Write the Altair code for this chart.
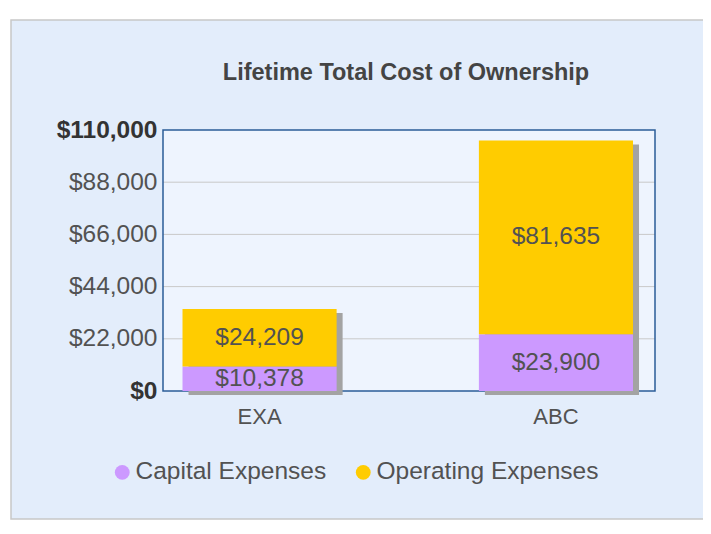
import altair as alt
import pandas as pd

# ---- data ----
products = ["EXA", "ABC"]
series = ["Capital Expenses", "Operating Expenses"]
capital = [10378, 23900]
operating = [24209, 81635]
y_ticks = [0, 22000, 44000, 66000, 88000, 110000]
title_text = "Lifetime Total Cost of Ownership"

rows = []
for i, p in enumerate(products):
    rows.append({"product": p, "series": series[0], "order": 0, "value": capital[i]})
    rows.append({"product": p, "series": series[1], "order": 1, "value": operating[i]})
df = pd.DataFrame(rows)
ticks_df = pd.DataFrame({"tick": y_ticks[1:-1]})

FONT = "Liberation Sans"
W, H = 492, 261
PANEL = "#e3edfb"
PLOT_BG = "#eef4fe"
BORDER = "#2b5c98"
TXT = "#525252"

xenc = alt.X(
    "product:N",
    sort=products,
    scale=alt.Scale(paddingInner=0.48, paddingOuter=0.07, align=0.47),
    axis=alt.Axis(
        title=None, labelAngle=0, domain=False, ticks=False, labelPadding=15,
        labelFontSize=22, labelFont=FONT, labelColor=TXT, zindex=1,
    ),
)
yscale = alt.Scale(domain=[0, 110000], nice=False, zero=True)
yaxis = alt.Axis(
    title=None, values=y_ticks, format="$,.0f", domain=False, ticks=False, grid=False,
    labelPadding=6, labelFontSize=24.5, labelFont=FONT, zindex=1,
    labelFontWeight=alt.condition("datum.value == 0 || datum.value == 110000",
                                  alt.value("bold"), alt.value("normal")),
    labelColor=alt.condition("datum.value == 0 || datum.value == 110000",
                             alt.value("#333333"), alt.value(TXT)),
)

deco = alt.Chart(pd.DataFrame({"d": [0]}))

panel = deco.mark_rect(fill=PANEL, stroke="#c8c8c8", strokeWidth=1.5).encode(
    x=alt.value(-152), x2=alt.value(545), y=alt.value(-110), y2=alt.value(389)
)
plot_bg = deco.mark_rect(fill=PLOT_BG).encode(
    x=alt.value(0), x2=alt.value(W), y=alt.value(0), y2=alt.value(H)
)
grid = alt.Chart(ticks_df).mark_rule(color="#c9c9c9", strokeWidth=1).encode(
    y=alt.Y("tick:Q", scale=yscale, axis=yaxis),
    x=alt.value(0), x2=alt.value(W),
)
border = deco.mark_rect(fill=None, stroke=BORDER, strokeWidth=1.5).encode(
    x=alt.value(0), x2=alt.value(W), y=alt.value(0), y2=alt.value(H)
)

base = alt.Chart(df)
shadow = base.transform_aggregate(
    total="sum(value)", groupby=["product"]
).mark_bar(color="#a3a3a3", xOffset=6, yOffset=4, y2Offset=4).encode(
    x=xenc, y=alt.Y("total:Q", scale=yscale), y2=alt.datum(0)
)

stacked = base.transform_stack(
    stack="value", groupby=["product"], as_=["y0", "y1"], sort=[alt.SortField("order")]
).transform_calculate(mid="(datum.y0 + datum.y1) / 2")

bars = stacked.mark_bar().encode(
    x=xenc,
    y=alt.Y("y1:Q", scale=yscale),
    y2="y0:Q",
    color=alt.Color(
        "series:N",
        scale=alt.Scale(domain=series, range=["#cc99ff", "#ffcc00"]),
        legend=alt.Legend(
            title=None, orient="none", legendX=-53, legendY=330, direction="horizontal",
            symbolType="circle", symbolSize=220, symbolStrokeWidth=0,
            labelFontSize=24.5, labelFont=FONT, labelColor=TXT, labelLimit=400,
            labelOffset=1, columnPadding=24, padding=0,
        ),
    ),
)
labels = stacked.mark_text(fontSize=24.5, font=FONT, color=TXT, baseline="middle").encode(
    x=xenc, y=alt.Y("mid:Q", scale=yscale), text=alt.Text("value:Q", format="$,.0f")
)

chart = alt.layer(panel, plot_bg, grid, border, shadow, bars, labels).properties(
    width=W,
    height=H,
    padding={"left": 155, "top": 122, "right": 48, "bottom": 131},
    autosize=alt.AutoSizeParams(type="none"),
    title=alt.TitleParams(
        title_text, fontSize=23.5, fontWeight="bold", font=FONT, color="#444444",
        anchor="middle", frame="group", offset=0, dy=84, dx=-3, baseline="alphabetic",
    ),
).configure_view(stroke=None).configure(background="white")

chart.save("out.html", embed_options={"renderer": "svg", "actions": False})
